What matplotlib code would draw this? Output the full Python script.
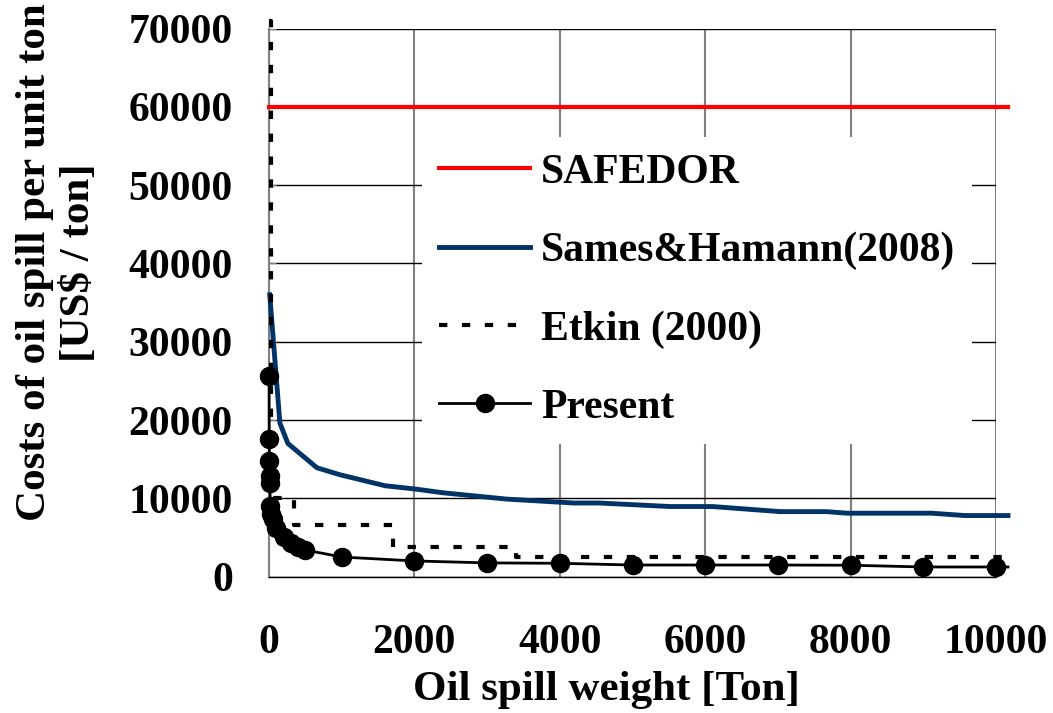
import matplotlib.pyplot as plt

plt.rcParams['font.family'] = ['Liberation Serif', 'DejaVu Serif']
plt.rcParams['font.weight'] = 'bold'
plt.rcParams['lines.scale_dashes'] = False

# SAFEDOR: flat cost per ton
safedor_x = [0, 10165]
safedor_y = [60000, 60000]

# Sames & Hamann (2008)
sames_x = [10, 150, 260, 660, 980, 1600, 2000, 2400, 3270, 4190, 4540, 5520, 6100,
           7030, 7660, 7950, 9110, 9570, 10165]
sames_y = [36000, 19600, 17000, 13900, 13000, 11600, 11200, 10700, 9900, 9400, 9400,
           8950, 8950, 8300, 8300, 8100, 8100, 7800, 7800]

# Etkin (2000): step function
etkin_x = [0, 34, 340, 1700, 3400, 10165]
etkin_y = [71000, 10000, 6650, 3840, 2560, 2560]

# Present study
present_x = [1, 3, 5, 7, 10, 20, 30, 50, 100, 200, 300, 400, 500, 1000,
             2000, 3000, 4000, 5000, 6000, 7000, 8000, 9000, 10000, 10165]
present_y = [25600, 17600, 14800, 12800, 11900, 9000, 8000, 7300, 6200, 5000, 4300,
             3800, 3400, 2500, 2000, 1750, 1700, 1480, 1480, 1480, 1450, 1230, 1230, 1230]
present_mark = list(range(len(present_x) - 1))

fig = plt.figure(figsize=(10.53, 7.13), dpi=100)
ax = fig.add_axes([269 / 1053, 1 - 576.6 / 713, (996 - 269) / 1053, (576.6 - 28.6) / 713])

ax.plot(safedor_x, safedor_y, color='#ff0000', lw=3, label='SAFEDOR', clip_on=False, zorder=3)
ax.plot(sames_x, sames_y, color='#003366', lw=3.5, label='Sames&Hamann(2008)', clip_on=False, zorder=3)
ax.plot(etkin_x, etkin_y, color='black', lw=3, dashes=(6, 10.5), drawstyle='steps-post',
        label='Etkin (2000)', clip_on=False, zorder=3)
ax.plot(present_x, present_y, color='black', lw=2, marker='o', markersize=13,
        markevery=present_mark, label='Present', clip_on=False, zorder=4)

ax.set_xlim(0, 10000)
ax.set_ylim(0, 70000)
ax.set_xticks(range(0, 10001, 2000))
ax.set_yticks(range(0, 70001, 10000))

ax.yaxis.grid(True, color='black', lw=1)
ax.xaxis.grid(True, color='#808080', lw=1.5)
ax.set_axisbelow(True)
for s in ['top', 'right']:
    ax.spines[s].set_visible(False)
ax.spines['left'].set_color('#808080')
ax.spines['left'].set_linewidth(1.5)
ax.spines['bottom'].set_color('black')
ax.spines['bottom'].set_linewidth(1)

ax.tick_params(axis='y', direction='in', length=5, color='#808080', labelsize=30, pad=26)
ax.tick_params(axis='x', length=0, labelsize=30, pad=34)

ax.set_xlabel('Oil spill weight [Ton]', fontsize=31, fontweight='bold', labelpad=0)
ax.xaxis.set_label_coords(0.464, -0.172)
fig.text(0.0545, 0.632, 'Costs of oil spill per unit ton\n[US$ / ton]', rotation=90,
         ha='center', va='center', fontsize=31, linespacing=1.2, multialignment='center')

leg = ax.legend(loc='upper left', bbox_to_anchor=(0.182, 0.84), fontsize=30, frameon=True,
                fancybox=False, edgecolor='none', facecolor='white', framealpha=1,
                handlelength=2.2, handletextpad=0.25, labelspacing=0.96, borderpad=0.4)

fig.savefig('out.png', dpi=100)
